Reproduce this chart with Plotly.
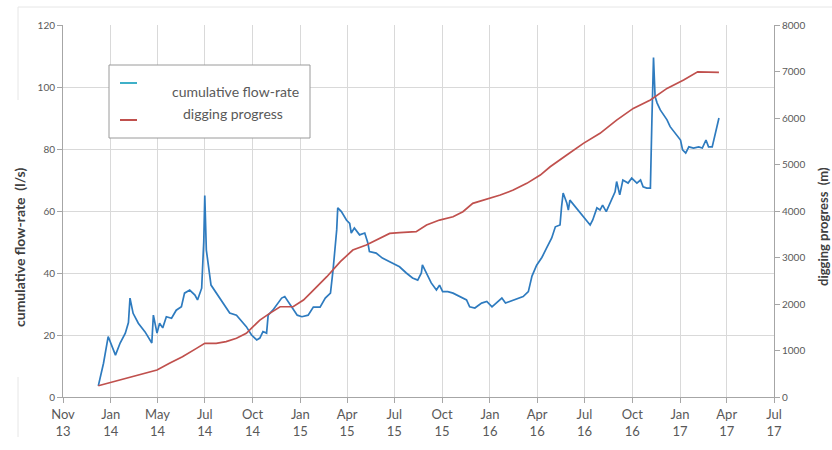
import plotly.graph_objects as go

# Quarterly axis ticks and their printed labels
tick_dates = [
    "2013-10-01", "2014-01-01", "2014-04-01", "2014-07-01", "2014-10-01",
    "2015-01-01", "2015-04-01", "2015-07-01", "2015-10-01", "2016-01-01",
    "2016-04-01", "2016-07-01", "2016-10-01", "2017-01-01", "2017-04-01",
    "2017-07-01",
]
tick_labels = [
    "Nov<br>13", "Jan<br>14", "May<br>14", "Jul<br>14", "Oct<br>14",
    "Jan<br>15", "Apr<br>15", "Jul<br>15", "Oct<br>15", "Jan<br>16",
    "Apr<br>16", "Jul<br>16", "Oct<br>16", "Jan<br>17", "Apr<br>17",
    "Jul<br>17",
]

# Cumulative flow-rate (l/s)
flow_dates = [
    "2013-12-08", "2013-12-18", "2013-12-27", "2014-01-03", "2014-01-10",
    "2014-01-19", "2014-01-29", "2014-02-04", "2014-02-07", "2014-02-13",
    "2014-02-23", "2014-03-08", "2014-03-21", "2014-03-24", "2014-03-31",
    "2014-04-05", "2014-04-11", "2014-04-18", "2014-04-28", "2014-05-07",
    "2014-05-17", "2014-05-23", "2014-06-02", "2014-06-12", "2014-06-17",
    "2014-06-25", "2014-06-29", "2014-07-01", "2014-07-04", "2014-07-13",
    "2014-07-23", "2014-08-04", "2014-08-18", "2014-08-31", "2014-09-09",
    "2014-09-19", "2014-09-29", "2014-10-09", "2014-10-15", "2014-10-21",
    "2014-10-28", "2014-10-31", "2014-11-09", "2014-11-26", "2014-12-02",
    "2014-12-16", "2014-12-26", "2015-01-04", "2015-01-16", "2015-01-26",
    "2015-02-08", "2015-02-18", "2015-02-28", "2015-03-05", "2015-03-12",
    "2015-03-14", "2015-03-21", "2015-03-31", "2015-04-06", "2015-04-09",
    "2015-04-15", "2015-04-25", "2015-05-05", "2015-05-11", "2015-05-14",
    "2015-05-27", "2015-06-08", "2015-06-22", "2015-07-11", "2015-07-24",
    "2015-08-05", "2015-08-15", "2015-08-22", "2015-08-24", "2015-09-01",
    "2015-09-10", "2015-09-20", "2015-09-26", "2015-10-02", "2015-10-12",
    "2015-10-22", "2015-11-04", "2015-11-17", "2015-11-23", "2015-12-03",
    "2015-12-16", "2015-12-26", "2016-01-05", "2016-01-14", "2016-01-24",
    "2016-01-31", "2016-02-09", "2016-02-25", "2016-03-05", "2016-03-15",
    "2016-03-22", "2016-03-31", "2016-04-10", "2016-04-19", "2016-04-29",
    "2016-05-06", "2016-05-15", "2016-05-18", "2016-05-21", "2016-05-28",
    "2016-05-31", "2016-06-03", "2016-06-13", "2016-06-23", "2016-07-02",
    "2016-07-12", "2016-07-17", "2016-07-25", "2016-07-31", "2016-08-05",
    "2016-08-12", "2016-08-19", "2016-08-29", "2016-09-01", "2016-09-07",
    "2016-09-13", "2016-09-23", "2016-09-30", "2016-10-10", "2016-10-17",
    "2016-10-22", "2016-10-29", "2016-11-05", "2016-11-08", "2016-11-11",
    "2016-11-14", "2016-11-18", "2016-11-24", "2016-11-30", "2016-12-07",
    "2016-12-13", "2016-12-23", "2017-01-02", "2017-01-06", "2017-01-12",
    "2017-01-18", "2017-01-27", "2017-02-06", "2017-02-13", "2017-02-20",
    "2017-02-25", "2017-03-04", "2017-03-11", "2017-03-17",
]
flow_rate = [
    3.6, 10.9, 19.5, 16.2, 13.5,
    17.4, 20.6, 24.0, 31.9, 27.0,
    23.8, 21.0, 17.4, 26.4, 20.6,
    23.8, 22.3, 25.9, 25.4, 28.0,
    29.1, 33.5, 34.5, 32.9, 31.3,
    35.1, 50.0, 65.0, 47.4, 36.1,
    33.5, 30.3, 27.1, 26.4, 24.8,
    22.7, 20.0, 18.4, 19.0, 21.1,
    20.6, 26.4, 28.0, 31.9, 32.4,
    29.1, 26.4, 25.9, 26.4, 29.0,
    29.0, 31.9, 33.5, 41.0, 53.9,
    61.0, 59.8, 57.0, 56.0, 52.9,
    54.5, 52.3, 52.9, 49.7, 46.9,
    46.4, 44.8, 43.6, 42.0, 40.0,
    38.4, 37.7, 40.0, 42.6, 40.0,
    36.8, 34.5, 36.1, 34.0, 34.0,
    33.5, 32.4, 31.3, 29.1, 28.7,
    30.3, 30.8, 29.1, 30.3, 31.9,
    30.3, 30.8, 31.9, 32.4, 34.0,
    39.0, 42.5, 45.0, 48.0, 51.3,
    54.9, 55.5, 61.4, 65.8, 62.6,
    60.3, 63.5, 61.4, 59.3, 57.7,
    55.5, 57.1, 61.0, 60.3, 61.9,
    59.8, 62.6, 66.2, 69.5, 65.2,
    70.0, 69.0, 70.6, 69.0, 70.0,
    67.8, 67.4, 67.4, 90.0, 109.5,
    96.9, 94.8, 92.6, 91.0, 89.4,
    87.2, 85.2, 82.9, 79.7, 78.7,
    80.7, 80.3, 80.7, 80.3, 82.9,
    80.7, 80.7, 85.2, 90.0,
]

# Digging progress (m)
dig_dates = [
    "2013-12-08", "2014-01-06", "2014-02-01", "2014-02-27", "2014-03-31",
    "2014-04-24", "2014-05-19", "2014-06-15", "2014-07-01", "2014-07-23",
    "2014-08-11", "2014-08-31", "2014-09-19", "2014-10-02", "2014-10-15",
    "2014-11-03", "2014-11-23", "2014-12-18", "2015-01-07", "2015-01-20",
    "2015-02-21", "2015-03-19", "2015-04-12", "2015-05-08", "2015-06-03",
    "2015-06-22", "2015-07-11", "2015-08-12", "2015-09-01", "2015-09-26",
    "2015-10-22", "2015-11-10", "2015-11-29", "2015-12-22", "2016-01-21",
    "2016-02-15", "2016-03-12", "2016-04-07", "2016-04-26", "2016-05-28",
    "2016-06-29", "2016-07-31", "2016-09-01", "2016-10-03", "2016-11-05",
    "2016-12-07", "2017-01-08", "2017-02-04", "2017-02-23", "2017-03-17",
]
dig_progress = [
    243, 329, 401, 473, 580,
    724, 867, 1046, 1154, 1154,
    1190, 1262, 1370, 1512, 1655,
    1799, 1941, 1941, 2085, 2230,
    2587, 2910, 3160, 3268, 3411,
    3519, 3533, 3555, 3698, 3805,
    3877, 3985, 4164, 4235, 4343,
    4450, 4594, 4773, 4952, 5203,
    5455, 5670, 5955, 6207, 6386,
    6637, 6816, 6994, 6994, 6980,
]

FLOW_COLOR = "#2e7bbf"
DIG_COLOR = "#c0504d"
TEXT_COLOR = "#595959"
GRID_COLOR = "#d9d9d9"
AXIS_COLOR = "#a6a6a6"
FONT = "Lato, Liberation Sans, sans-serif"

W, H = 832, 450
ML, MR, MT, MB = 63, 58, 25, 53
PW, PH = W - ML - MR, H - MT - MB


def px(x):
    """Horizontal pixel -> paper fraction."""
    return (x - ML) / PW


def py(y):
    """Vertical pixel (from top) -> paper fraction."""
    return (H - MB - y) / PH


fig = go.Figure()
fig.add_trace(go.Scatter(
    x=flow_dates, y=flow_rate, name="cumulative flow-rate",
    mode="lines", line=dict(color=FLOW_COLOR, width=1.7),
    yaxis="y", showlegend=False,
))
fig.add_trace(go.Scatter(
    x=dig_dates, y=dig_progress, name="digging progress",
    mode="lines", line=dict(color=DIG_COLOR, width=1.7),
    yaxis="y2", showlegend=False,
))

shapes = [
    # legend frame and line samples
    dict(type="rect", xref="paper", yref="paper",
         x0=px(109), x1=px(310), y0=py(138), y1=py(65),
         line=dict(color="#9a9a9a", width=1), fillcolor="white", layer="above"),
    dict(type="line", xref="paper", yref="paper",
         x0=px(120), x1=px(137), y0=py(83), y1=py(83),
         line=dict(color="#3fb0c8", width=2), layer="above"),
    dict(type="line", xref="paper", yref="paper",
         x0=px(120), x1=px(137), y0=py(120), y1=py(120),
         line=dict(color=DIG_COLOR, width=2), layer="above"),
    # faint chart-area frame
    dict(type="line", xref="paper", yref="paper",
         x0=px(18), x1=px(832), y0=py(7), y1=py(7),
         line=dict(color="#e6e6e6", width=1)),
    dict(type="line", xref="paper", yref="paper",
         x0=px(18), x1=px(18), y0=py(7), y1=py(100),
         line=dict(color="#e6e6e6", width=1)),
    dict(type="line", xref="paper", yref="paper",
         x0=px(18), x1=px(18), y0=py(377), y1=py(437),
         line=dict(color="#e6e6e6", width=1)),
]

centered = dict(xref="paper", yref="paper", showarrow=False,
                xanchor="center", yanchor="middle")
annotations = [
    dict(text="cumulative flow-rate", x=px(235), y=py(92),
         font=dict(family=FONT, size=14, color=TEXT_COLOR), **centered),
    dict(text="digging progress", x=px(233), y=py(113),
         font=dict(family=FONT, size=14, color=TEXT_COLOR), **centered),
    dict(text="<b>cumulative flow-rate  (l/s)</b>", x=px(19), y=py(248),
         textangle=-90, font=dict(family=FONT, size=14, color="#404040"),
         **centered),
    dict(text="<b>digging progress  (m)</b>", x=px(823), y=py(226),
         textangle=-90, font=dict(family=FONT, size=13, color="#404040"),
         **centered),
]

fig.update_layout(
    width=W, height=H,
    margin=dict(l=ML, r=MR, t=MT, b=MB, pad=0),
    paper_bgcolor="white", plot_bgcolor="white",
    font=dict(family=FONT, color=TEXT_COLOR),
    showlegend=False,
    shapes=shapes,
    annotations=annotations,
    xaxis=dict(
        type="date", range=[tick_dates[0], tick_dates[-1]],
        tickmode="array", tickvals=tick_dates, ticktext=tick_labels,
        showgrid=True, gridcolor=GRID_COLOR, gridwidth=1,
        showline=True, linecolor=AXIS_COLOR, linewidth=1,
        ticks="outside", ticklen=5, tickcolor=AXIS_COLOR,
        tickfont=dict(family=FONT, size=13, color=TEXT_COLOR),
        zeroline=False,
    ),
    yaxis=dict(
        range=[0, 120], tickmode="linear", tick0=0, dtick=20,
        showgrid=True, gridcolor=GRID_COLOR, gridwidth=1,
        showline=True, linecolor=AXIS_COLOR, linewidth=1,
        ticks="outside", ticklen=5, tickcolor=AXIS_COLOR,
        tickfont=dict(family=FONT, size=10, color=TEXT_COLOR),
        zeroline=False,
    ),
    yaxis2=dict(
        range=[0, 8000], tickmode="linear", tick0=0, dtick=1000,
        overlaying="y", side="right", showgrid=False,
        showline=True, linecolor=AXIS_COLOR, linewidth=1,
        ticks="outside", ticklen=5, tickcolor=AXIS_COLOR,
        tickfont=dict(family=FONT, size=10, color=TEXT_COLOR),
        zeroline=False,
    ),
)

fig.write_html("out.html")
